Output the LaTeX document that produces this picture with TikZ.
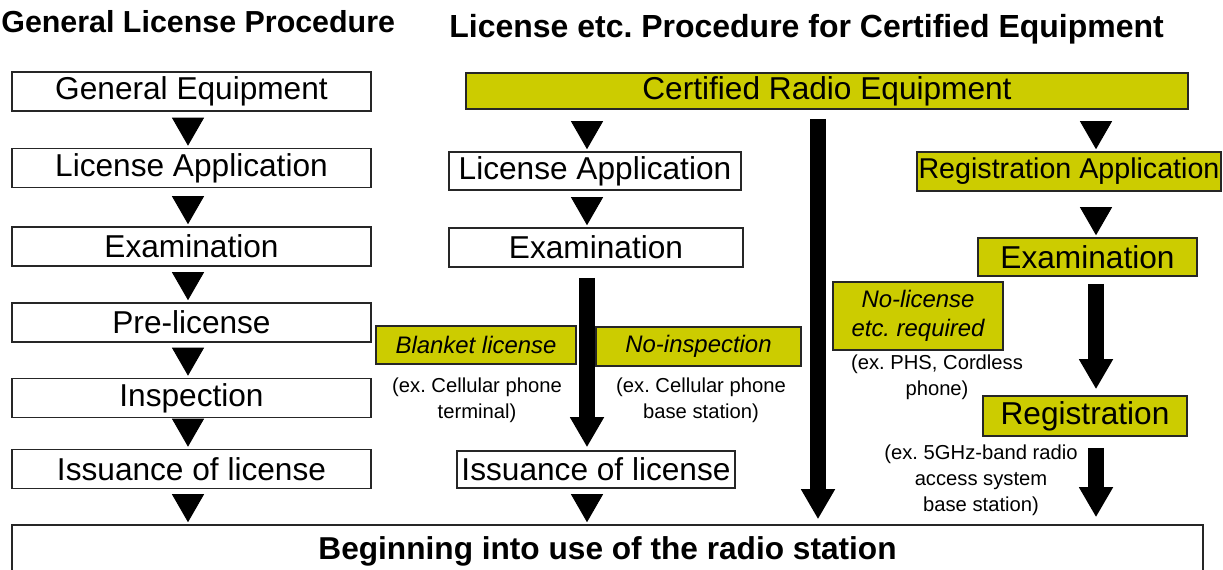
\documentclass[tikz,border=0pt]{standalone}
\usepackage{fontspec}
\setmainfont{Liberation Sans}
\usetikzlibrary{arrows.meta,positioning}
\definecolor{certyellow}{RGB}{204,204,0}
\frenchspacing

\begin{document}
\begin{tikzpicture}[x=0.2mm,y=-0.2mm,
  box/.style={draw=black!85, line width=0.9pt, fill=white, inner sep=0pt, minimum height=7.8mm, font=\fontsize{18}{21}\selectfont},
  ybox/.style={box, fill=certyellow},
  tag/.style={draw=black!85, line width=0.9pt, fill=certyellow, inner sep=0pt, align=center, font=\fontsize{13.6}{16.4}\selectfont\itshape},
  note/.style={align=center, font=\fontsize{11.5}{14.7}\selectfont},
  title/.style={font=\fontsize{18}{21}\selectfont\bfseries},
  smallarr/.style={line width=0.5pt, shorten <=3mm, shorten >=0.4mm, -{Triangle[length=5.6mm,width=6.4mm]}},
  bigarr/.style={line width=3.1mm, -{Triangle[length=6mm,width=6.4mm]}}]
\useasboundingbox (0,0) rectangle (1223,569);

% headings
\node[title, anchor=base west, inner xsep=0pt, font=\fontsize{17.3}{20}\selectfont\bfseries] (ttlgen) at (1,32) {General License Procedure};
\node[title, anchor=base west, inner xsep=0pt, font=\fontsize{18.2}{21}\selectfont\bfseries] (ttlcert) at (449,37) {License etc. Procedure for Certified Equipment};

% general procedure
\node[box, minimum width=71.8mm] (genequip) at (191.5,91.5) {General Equipment};
\node[box, minimum width=71.8mm] (genapp) at (191.5,168) {License Application};
\node[box, minimum width=71.8mm] (genexam) at (191.5,246.5) {Examination};
\node[box, minimum width=71.8mm] (genpre) at (191.5,322.5) {Pre-license};
\node[box, minimum width=71.8mm] (geninsp) at (191.5,398) {Inspection};
\node[box, minimum width=71.8mm] (genissue) at (191.5,469) {Issuance of license};

% certified equipment
\node[ybox, minimum width=144.4mm, minimum height=7.2mm] (certequip) at (827,91) {Certified Radio Equipment};
\node[box, minimum width=58.4mm, minimum height=7.6mm] (certapp) at (595,171) {License Application};
\node[box, minimum width=58.8mm] (certexam) at (596,247.5) {Examination};
\node[box, minimum width=55.6mm, minimum height=7.4mm] (certissue) at (596,469.5) {Issuance of license};
\node[tag, minimum width=40mm, minimum height=7.6mm] (blanket) at (476,345) {Blanket license};
\node[tag, minimum width=41mm, minimum height=7.8mm] (noinsp) at (698.5,346.5) {No-inspection};
\node[note] (exterm) at (477,400) {(ex. Cellular phone\\terminal)};
\node[note] (exbase) at (701,400) {(ex. Cellular phone\\base station)};

\node[tag, minimum width=34mm, minimum height=13.6mm] (nolic) at (918,316) {No-license\\etc. required};
\node[note] (exphs) at (937,377) {(ex. PHS, Cordless\\phone)};

\node[ybox, minimum width=60.8mm, font=\fontsize{16.3}{19}\selectfont] (regapp) at (1069,171.5) {Registration Application};
\node[ybox, minimum width=43.8mm, minimum height=7.6mm] (regexam) at (1087.5,257) {Examination};
\node[ybox, minimum width=40.8mm, minimum height=8mm] (reg) at (1085,416) {Registration};
\node[note] (exfive) at (981,480) {(ex. 5GHz-band radio\\access system\\base station)};

\node[box, minimum width=238.2mm, minimum height=10.4mm, font=\fontsize{18}{21}\selectfont\bfseries] (beginuse) at (607.5,551) {Beginning into use of the radio station};

% arrow columns
\coordinate (lcol) at (188,0);
\coordinate (mcol) at (587,0);
\coordinate (ccol) at (818,0);
\coordinate (rcol) at (1096,0);

\draw[smallarr] (lcol |- genequip.south) -- (lcol |- genapp.north);
\draw[smallarr] (lcol |- genapp.south) -- (lcol |- genexam.north);
\draw[smallarr] (lcol |- genexam.south) -- (lcol |- genpre.north);
\draw[smallarr] (lcol |- genpre.south) -- (lcol |- geninsp.north);
\draw[smallarr] (lcol |- geninsp.south) -- (lcol |- genissue.north);
\draw[smallarr] (lcol |- genissue.south) -- (lcol |- beginuse.north);

\draw[smallarr] (mcol |- certequip.south) -- (mcol |- certapp.north);
\draw[smallarr] (mcol |- certapp.south) -- (mcol |- certexam.north);
\draw[bigarr, shorten <=2mm, shorten >=0.6mm] (mcol |- certexam.south) -- (mcol |- certissue.north);
\draw[smallarr] (mcol |- certissue.south) -- (mcol |- beginuse.north);

\draw[bigarr, shorten <=1.8mm, shorten >=1mm] (ccol |- certequip.south) -- (ccol |- beginuse.north);

\draw[smallarr] (rcol |- certequip.south) -- (rcol |- regapp.north);
\draw[smallarr] (rcol |- regapp.south) -- (rcol |- regexam.north);
\draw[bigarr, shorten <=1.4mm, shorten >=1.2mm] (rcol |- regexam.south) -- (rcol |- reg.north);
\draw[bigarr, shorten <=2.2mm, shorten >=1.4mm] (rcol |- reg.south) -- (rcol |- beginuse.north);
\end{tikzpicture}
\end{document}
